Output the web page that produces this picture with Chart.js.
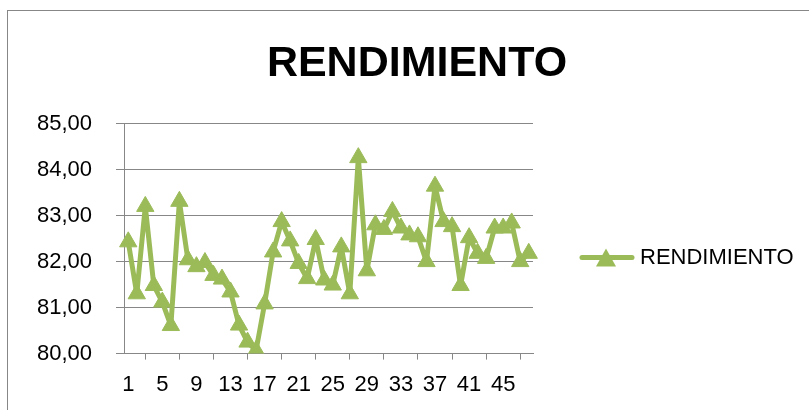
<!DOCTYPE html>
<html>
<head>
<meta charset="utf-8">
<script src="https://cdn.jsdelivr.net/npm/chart.js@4/dist/chart.umd.min.js"></script>
<style>
  body { margin: 0; background: #fff; }
  #chart { display: block; }
</style>
</head>
<body>
<canvas id="chart" width="809" height="410"></canvas>
<script>
const categories = [1, 2, 3, 4, 5, 6, 7, 8, 9, 10, 11, 12, 13, 14, 15, 16,
    17, 18, 19, 20, 21, 22, 23, 24, 25, 26, 27, 28, 29, 30, 31, 32,
    33, 34, 35, 36, 37, 38, 39, 40, 41, 42, 43, 44, 45, 46, 47, 48]

const rendimiento = [82.43, 81.30, 83.20, 81.48, 81.12, 80.61, 83.31, 82.04,
    81.89, 81.98, 81.70, 81.62, 81.34, 80.62, 80.25, 80.07,
    81.08, 82.21, 82.87, 82.45, 81.96, 81.63, 82.48, 81.60,
    81.49, 82.32, 81.30, 84.26, 81.80, 82.80, 82.70, 83.09,
    82.73, 82.58, 82.54, 82.00, 83.64, 82.87, 82.76, 81.48,
    82.52, 82.18, 82.07, 82.73, 82.73, 82.84, 82.00, 82.18]

const xTickLabels = ["1", "5", "9", "13", "17", "21", "25", "29", "33", "37", "41", "45"]
const yTicks = [80, 81, 82, 83, 84, 85]

const green = "#9BBB59"
const gray = "#878787"

// legend icon: line with a triangle in the middle
const legendIcon = document.createElement('canvas')
legendIcon.width = 56
legendIcon.height = 24
const g = legendIcon.getContext('2d')
g.strokeStyle = green
g.lineWidth = 5
g.lineCap = 'round'
g.beginPath()
g.moveTo(3, 11.5)
g.lineTo(53, 11.5)
g.stroke()
g.fillStyle = green
g.beginPath()
g.moveTo(27, 2.5)
g.lineTo(37, 20.5)
g.lineTo(17, 20.5)
g.closePath()
g.fill()

const framePlugin = {
    id: 'frame',
    beforeDraw(chart) {
        const c = chart.ctx
        c.save()
        c.fillStyle = '#fff'
        c.fillRect(0, 0, chart.width, chart.height)
        c.strokeStyle = gray
        c.lineWidth = 1
        c.strokeRect(7.5, 10.5, 900, 500)
        c.restore()
    }
}

// the legend box is capped at a quarter of the width by the layout, so widen it
// and move it down to sit beside the plot like the original
const legendPlace = {
    id: 'legendPlace',
    beforeLayout(chart) {
        const lg = chart.legend
        if (lg && !lg._wide) {
            const fit = lg.fit
            lg.fit = function () {
                fit.call(this)
                this.width = 276
            }
            lg._wide = true
        }
    },
    afterLayout(chart) {
        const lg = chart.legend
        if (!lg) return
        const shift = 258 - (lg.top + lg.bottom) / 2
        lg.top += shift
        lg.bottom += shift
    }
}

const ctx = document.getElementById('chart').getContext('2d')

new Chart(ctx, {
    type: 'line',
    data: {
        labels: categories,
        datasets: [{
            label: 'RENDIMIENTO',
            data: rendimiento,
            borderColor: green,
            backgroundColor: green,
            borderWidth: 5,
            borderJoinStyle: 'round',
            borderCapStyle: 'round',
            pointStyle: 'triangle',
            pointRadius: 10,
            pointBorderWidth: 1,
            pointBackgroundColor: green,
            pointBorderColor: green,
            tension: 0
        }]
    },
    options: {
        responsive: false,
        animation: false,
        layout: { padding: { left: 25, top: 10 } },
        plugins: {
            title: {
                display: true,
                text: 'RENDIMIENTO',
                color: '#000',
                font: { family: "'Liberation Sans'", size: 43, weight: 'bold' },
                padding: { top: 28, bottom: 34 }
            },
            legend: {
                position: 'right',
                labels: {
                    usePointStyle: true,
                    pointStyle: legendIcon,
                    pointStyleWidth: 44,
                    color: '#000',
                    padding: 52,
                    font: { family: "'Liberation Sans'", size: 22 }
                }
            },
            tooltip: { enabled: false }
        },
        scales: {
            x: {
                offset: true,
                grid: {
                    display: true,
                    offset: true,
                    drawOnChartArea: false,
                    drawTicks: true,
                    tickLength: 6,
                    color: gray
                },
                border: { display: true, color: gray, width: 1 },
                ticks: {
                    autoSkip: false,
                    maxRotation: 0,
                    padding: 12,
                    color: '#000',
                    font: { family: "'Liberation Sans'", size: 22 },
                    callback: function (value, index) {
                        const lab = String(categories[index])
                        return xTickLabels.includes(lab) ? lab : null
                    }
                }
            },
            y: {
                min: yTicks[0],
                max: yTicks[yTicks.length - 1],
                afterFit: function (scale) { scale.width = 99 },
                grid: {
                    color: gray,
                    lineWidth: 1,
                    drawTicks: true,
                    tickLength: 8,
                    tickColor: gray
                },
                border: { display: true, color: gray, width: 1 },
                ticks: {
                    stepSize: 1,
                    padding: 24,
                    color: '#000',
                    font: { family: "'Liberation Sans'", size: 22 },
                    callback: v => v.toFixed(2).replace('.', ',')
                }
            }
        }
    },
    plugins: [framePlugin, legendPlace]
})
</script>
</body>
</html>
